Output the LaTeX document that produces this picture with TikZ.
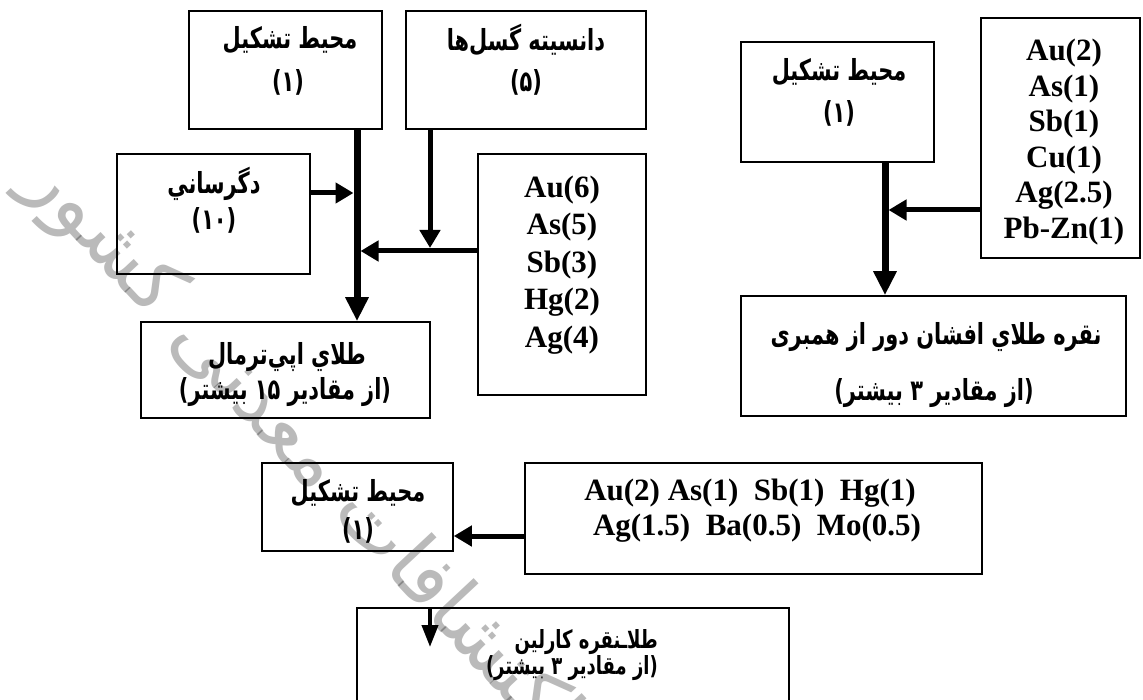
\documentclass[tikz,border=0pt]{standalone}
\usepackage{fontspec}
\setmainfont{Liberation Serif}
\newfontfamily\fafont[Script=Arabic, FakeStretch=0.72]{DejaVu Sans}
\newfontfamily\wmfont[Script=Arabic]{DejaVu Sans}
\TeXXeTstate=1
\usetikzlibrary{arrows.meta}
\tikzset{
  box/.style={draw, line width=1.6pt, inner sep=0pt},
  fa/.style={font=\fafont\bfseries\fontsize{29}{33}\selectfont, inner sep=0pt},
  fasmall/.style={font=\fafont\bfseries\fontsize{25}{28}\selectfont, inner sep=0pt},
  la/.style={font=\bfseries\fontsize{31}{37.5}\selectfont, align=center, inner sep=0pt},
  trunk/.style={line width=7pt, -{Triangle[width=22pt,length=24pt]}},
  side/.style={line width=5pt, -{Triangle[width=20pt,length=18pt]}},
  watermark/.style={font=\wmfont\fontsize{80}{90}\selectfont, text=black, text opacity=0.27, inner sep=0pt},
}
\begin{document}
\begin{tikzpicture}[x=1pt,y=-1pt]
\useasboundingbox (0,0) rectangle (1143,700);
\clip (0,0) rectangle (1143,700);
% boxes
\node[box, minimum width=193pt, minimum height=118pt] (A1) at (285.5,70) {};
\node[box, minimum width=240pt, minimum height=118pt] (D) at (526,70) {};
\node[box, minimum width=193pt, minimum height=120pt] (G) at (213.5,214) {};
\node[box, minimum width=289pt, minimum height=96pt] (E) at (285.5,370) {};
\node[box, minimum width=168pt, minimum height=241pt] (L1) at (562,274.5) {};
\node[box, minimum width=193pt, minimum height=120pt] (A2) at (837.5,102) {};
\node[box, minimum width=159pt, minimum height=240pt] (L2) at (1060.5,138) {};
\node[box, minimum width=385pt, minimum height=120pt] (N) at (933.5,356) {};
\node[box, minimum width=191pt, minimum height=88pt] (A3) at (357.5,507) {};
\node[box, minimum width=457pt, minimum height=111pt] (L3) at (753.5,518.5) {};
\node[box, minimum width=432pt, minimum height=132pt] (K) at (573,674) {};
% texts
\node[fa] (A1a) at (290,40) {\beginR محیط تشکیل\endR};
\node[fa] (A1b) at (288,82) {\beginR(۱)\endR};
\node[fa] (Da) at (526,40) {\beginR دانسیته گسل‌ها\endR};
\node[fa] (Db) at (526,82) {\beginR(۵)\endR};
\node[fa] (Ga) at (214,184) {\beginR دگرساني\endR};
\node[fa] (Gb) at (214,220) {\beginR(\beginL۱۰\endL{})\endR};
\node[fa] (Ea) at (287,357) {\beginR طلاي اپي‌ترمال\endR};
\node[fa] (Eb) at (285,392) {\beginR(از مقادیر \beginL۱۵\endL{} بیشتر)\endR};
\node[la] (L1t) at (562,265) {Au(6)\\As(5)\\Sb(3)\\Hg(2)\\Ag(4)};
\node[fa] (A2a) at (839,72) {\beginR محیط تشکیل\endR};
\node[fa] (A2b) at (839,113) {\beginR(۱)\endR};
\node[la, font=\bfseries\fontsize{31}{35.5}\selectfont] (L2t) at (1064,142) {Au(2)\\As(1)\\Sb(1)\\Cu(1)\\Ag(2.5)\\Pb-Zn(1)};
\node[fa] (Na) at (936,337) {\beginR نقره طلاي افشان دور از همبری\endR};
\node[fa] (Nb) at (934,393) {\beginR(از مقادیر ۳ بیشتر)\endR};
\node[fa] (A3a) at (358,493) {\beginR محیط تشکیل\endR};
\node[fa] (A3b) at (358,530) {\beginR(۱)\endR};
\node[la] (L3a) at (750,493) {Au(2) As(1)\ \ Sb(1)\ \ Hg(1)};
\node[la] (L3b) at (757,528) {Ag(1.5)\ \ Ba(0.5)\ \ Mo(0.5)};
\node[fasmall, anchor=east] (Ka) at (658,642) {\beginR طلاـنقره کارلین\endR};
\node[fasmall, anchor=east] (Kb) at (658,668) {\beginR(از مقادیر ۳ بیشتر)\endR};
% connector coordinates
\coordinate (tx) at (357,0);
\coordinate (gy) at (0,193);
\coordinate (dx) at (430,0);
\coordinate (hy) at (0,251);
\coordinate (rx) at (885,0);
\coordinate (ry) at (0,210);
\coordinate (by) at (0,536);
\coordinate (kx) at (430,0);
\coordinate (ky) at (0,647);
\coordinate (dy) at (0,248);
% connectors
\draw[trunk] (A1.south -| tx) -- (E.north -| tx);
\draw[side] (G.east |- gy) -- ([xshift=-3.5pt]tx |- gy);
\draw[side] (D.south -| dx) -- (dx |- dy);
\draw[side] (L1.west |- hy) -- ([xshift=3.5pt]tx |- hy);
\draw[trunk] (A2.south -| rx) -- (N.north -| rx);
\draw[side] (L2.west |- ry) -- ([xshift=3.5pt]rx |- ry);
\draw[side] (L3.west |- by) -- (A3.east |- by);
\draw[line width=4pt, -{Triangle[width=16pt,length=22pt]}] (K.north -| kx) -- (kx |- ky);
% watermark
\node[watermark, rotate=-47] (wm) at (300,450) {\beginR اکتشافات معدنی کشور\endR};
\end{tikzpicture}
\end{document}
